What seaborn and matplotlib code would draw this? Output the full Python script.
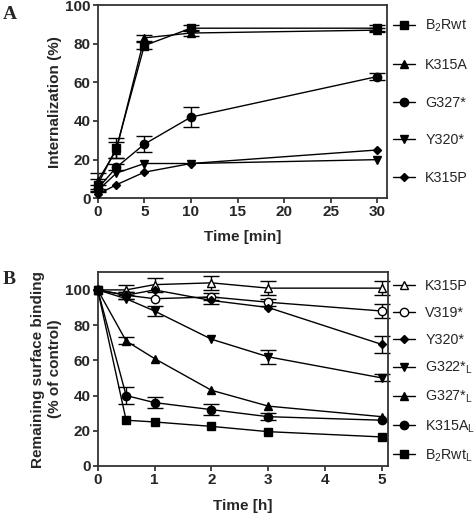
import matplotlib
matplotlib.use("Agg")
import matplotlib.pyplot as plt
import numpy as np
import pandas as pd
import seaborn as sns

# Panel A: internalization over time (min)
time_a = [0, 2, 5, 10, 30]
labels_a = ["B$_\\mathregular{2}$Rwt", "K315A", "G327*", "Y320*", "K315P"]
vals_a = [
    [7, 26, 79, 88, 88],
    [9, 25, 83, 85.5, 87],
    [5, 16, 28, 42, 63],
    [4, 13, 18, 18, 20],
    [2, 7, 13.5, 18, 25],
]
err_a = [
    [3, 5, 2, 1.5, 1.5],
    [4, 4, 1.5, 1.5, 1],
    [2, 1.5, 4, 5, 2],
    [0, 0, 0, 0, 0],
    [0, 0, 0, 0, 0],
]
markers_a = ["s", "^", "o", "v", "D"]
sizes_a = [5.5, 6, 6, 6, 4.2]

# Panel B: remaining surface binding over time (h)
time_b = [0, 0.5, 1, 2, 3, 5]
labels_b = ["K315P", "V319*", "Y320*", "G322*$_\\mathregular{L}$",
            "G327*$_\\mathregular{L}$", "K315A$_\\mathregular{L}$",
            "B$_\\mathregular{2}$Rwt$_\\mathregular{L}$"]
vals_b = [
    [100, 100, 103, 104, 101, 101],
    [100, 97, 95, 96, 93, 88],
    [100, 97, 100, 94, 90, 69],
    [100, 95, 88, 72, 62, 50],
    [100, 71, 61, 43, 34, 28],
    [100, 40, 36, 32, 28, 26],
    [100, 26, 25, 22.5, 19.5, 16.5],
]
err_b = [
    [0, 3, 4, 4, 4, 4],
    [0, 2, 0, 2, 2, 4],
    [0, 2, 0, 2, 0, 5],
    [0, 0, 3, 0, 4, 2],
    [0, 2, 0, 0, 0, 0],
    [0, 5, 3, 3, 2, 0],
    [0, 0, 0, 0, 0, 0],
]
markers_b = ["^", "o", "D", "v", "^", "o", "s"]
sizes_b = [6, 6, 4.2, 6, 6, 6, 5.5]
open_b = [True, True, False, False, False, False, False]

sns.set_style("ticks")
plt.rcParams["font.family"] = ["Liberation Sans", "DejaVu Sans"]
plt.rcParams["axes.linewidth"] = 1.3
plt.rcParams["axes.edgecolor"] = "#333333"

fig = plt.figure(figsize=(4.75, 5.16), dpi=100)
ax_a = fig.add_axes([0.2057, 0.6157, 0.6084, 0.3746])
ax_b = fig.add_axes([0.2057, 0.0969, 0.6105, 0.3754])


def draw(ax, t, vals, errs, labels, markers, sizes, opens):
    for i, (v, e, lab, m, ms) in enumerate(zip(vals, errs, labels, markers, sizes)):
        fc = "white" if opens[i] else "black"
        df = pd.DataFrame({"t": t, "v": v, "e": e})
        sns.lineplot(data=df, x="t", y="v", ax=ax, color="black", lw=1.0,
                     marker=m, markersize=ms, markerfacecolor=fc,
                     markeredgecolor="black", markeredgewidth=1.0,
                     label=lab, clip_on=False, zorder=3)
        # error bars hidden by the marker are not drawn
        d = df[df["e"] > 0]
        if len(d):
            ax.errorbar(d["t"], d["v"], yerr=d["e"], fmt="none", ecolor="black",
                        elinewidth=1.0, capsize=6, capthick=1.0, clip_on=False,
                        zorder=2)


draw(ax_a, time_a, vals_a, err_a, labels_a, markers_a, sizes_a, [False] * 5)
draw(ax_b, time_b, vals_b, err_b, labels_b, markers_b, sizes_b, open_b)

ax_a.set_xlim(0, 31)
ax_a.set_ylim(0, 100)
ax_a.set_xticks([0, 5, 10, 15, 20, 25, 30])
ax_a.set_yticks([0, 20, 40, 60, 80, 100])
ax_a.set_xlabel("Time [min]", fontsize=11, fontweight="bold", labelpad=8)
ax_a.set_ylabel("Internalization (%)", fontsize=11, fontweight="bold", labelpad=2)

ax_b.set_xlim(0, 5.1)
ax_b.set_ylim(0, 110)
ax_b.set_xticks([0, 1, 2, 3, 4, 5])
ax_b.set_yticks([0, 20, 40, 60, 80, 100])
ax_b.set_xlabel("Time [h]", fontsize=11, fontweight="bold", labelpad=9)
ax_b.set_ylabel("Remaining surface binding\n(% of control)", fontsize=11,
                fontweight="bold", labelpad=2, linespacing=1.3)

for ax in (ax_a, ax_b):
    ax.tick_params(direction="out", length=3.5, width=1.2, labelsize=11, pad=1.5)
    for lbl in ax.get_xticklabels() + ax.get_yticklabels():
        lbl.set_fontweight("bold")

ax_a.legend(loc="upper left", bbox_to_anchor=(393 / 475, 1 - 18 / 516),
            bbox_transform=fig.transFigure, frameon=False,
            fontsize=10.3, labelspacing=1.65, handlelength=1.55, handletextpad=0.7,
            borderaxespad=0, borderpad=0)
ax_b.legend(loc="upper left", bbox_to_anchor=(393 / 475, 1 - 279 / 516),
            bbox_transform=fig.transFigure, frameon=False,
            fontsize=10.3, labelspacing=0.9, handlelength=1.55, handletextpad=0.7,
            borderaxespad=0, borderpad=0)

fig.text(0.006, 0.988, "A", fontsize=14, fontweight="bold", family="Liberation Serif",
         va="top", ha="left")
fig.text(0.006, 0.475, "B", fontsize=14, fontweight="bold", family="Liberation Serif",
         va="top", ha="left")

fig.savefig("out.png", dpi=100)
